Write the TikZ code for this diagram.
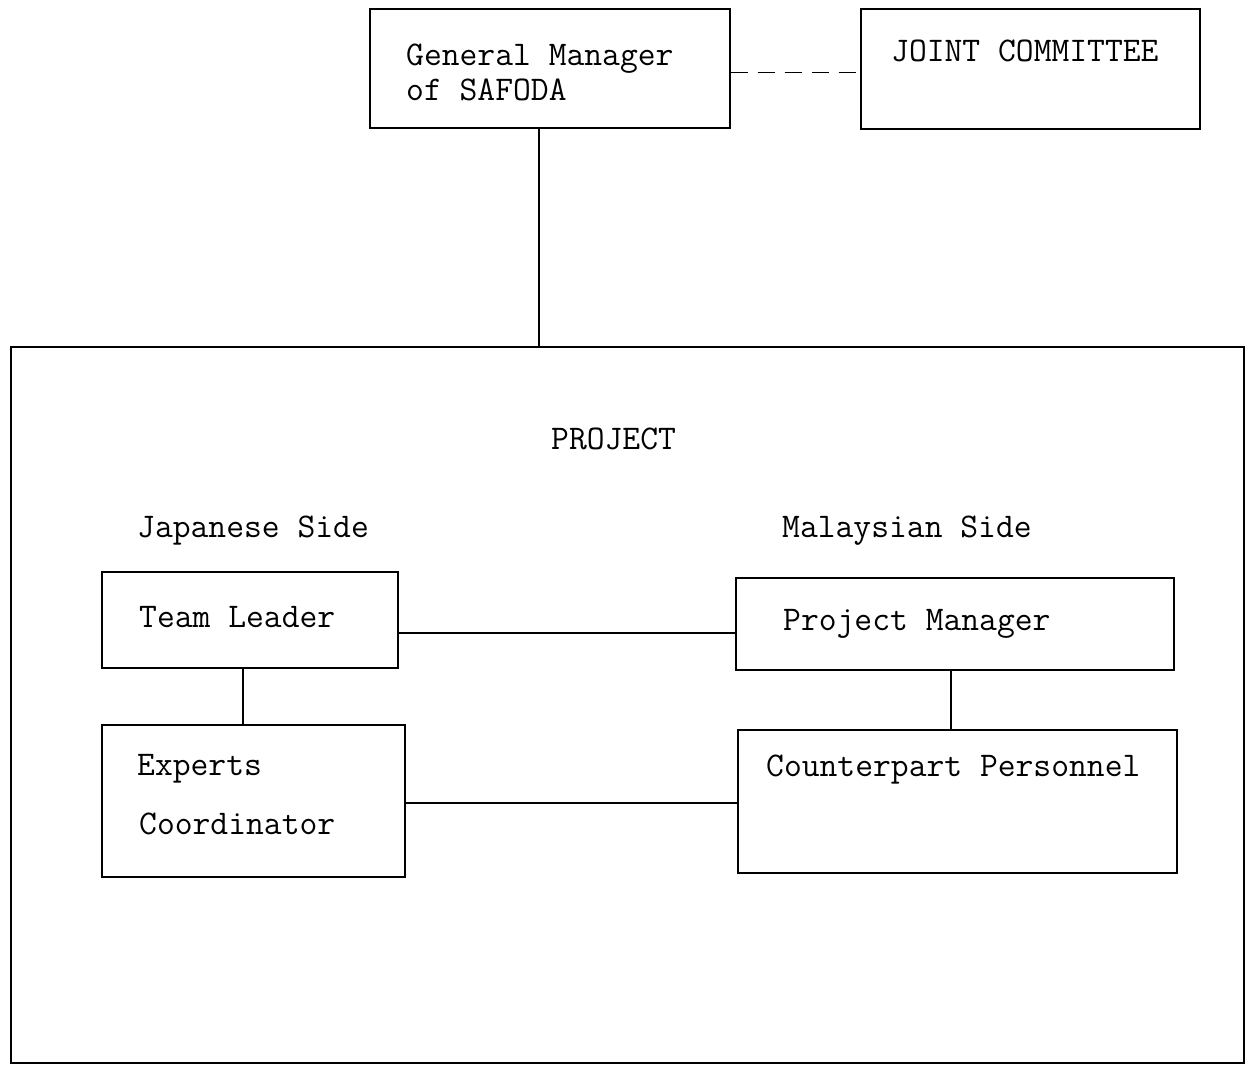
\documentclass[tikz,border=0pt]{standalone}
\usepackage{fontspec}
\begin{document}
\begin{tikzpicture}[x=1pt,y=-1pt,
  box/.style={draw, line width=1.6pt, rectangle, inner sep=0pt, anchor=north west},
  conn/.style={line width=1.6pt},
  lbl/.style={anchor=base west, inner sep=0pt, font=\ttfamily\fontsize{34.6}{40}\selectfont}]
\useasboundingbox (0,0) rectangle (1247,1066);
% boxes
\node[box, minimum width=360pt, minimum height=119pt] (gm) at (369,8) {};
\node[box, minimum width=339pt, minimum height=120pt] (jc) at (860,8) {};
\node[box, minimum width=1233pt, minimum height=716pt] (proj) at (10,346) {};
\node[box, minimum width=296pt, minimum height=96pt] (tl) at (101,571) {};
\node[box, minimum width=438pt, minimum height=92pt] (pm) at (735,577) {};
\node[box, minimum width=303pt, minimum height=152pt] (ec) at (101,724) {};
\node[box, minimum width=439pt, minimum height=143pt] (cp) at (737,729) {};
% texts
\node[lbl] (gmt1) at (406,65) {General Manager};
\node[lbl] (gmt2) at (406,100) {of SAFODA};
\node[lbl] (jct) at (891,61) {JOINT COMMITTEE};
\node[lbl] (projt) at (551,449) {PROJECT};
\node[lbl] (jst) at (137,537) {Japanese Side};
\node[lbl] (mst) at (782,537) {Malaysian Side};
\node[lbl] (tlt) at (139,627) {Team Leader};
\node[lbl] (pmt) at (783,630) {Project Manager};
\node[lbl] (ect1) at (137,775) {Experts};
\node[lbl] (ect2) at (139,834) {Coordinator};
\node[lbl] (cpt) at (766,776) {Counterpart Personnel};
% connectors
\draw[conn, dash pattern=on 17pt off 10pt] ([yshift=-4pt]gm.east) -- ([yshift=-4pt]gm.east -| jc.west);
\draw[conn] ([xshift=-11pt]gm.south) -- ([xshift=-11pt]gm.south |- proj.north);
\draw[conn] ([yshift=-13pt]tl.east) -- ([yshift=-13pt]tl.east -| pm.west);
\draw[conn] ([xshift=-7pt]tl.south) -- ([xshift=-7pt]tl.south |- ec.north);
\draw[conn] ([xshift=-4pt]pm.south) -- ([xshift=-4pt]pm.south |- cp.north);
\draw[conn] ([yshift=-2pt]ec.east) -- ([yshift=-2pt]ec.east -| cp.west);
\end{tikzpicture}
\end{document}
